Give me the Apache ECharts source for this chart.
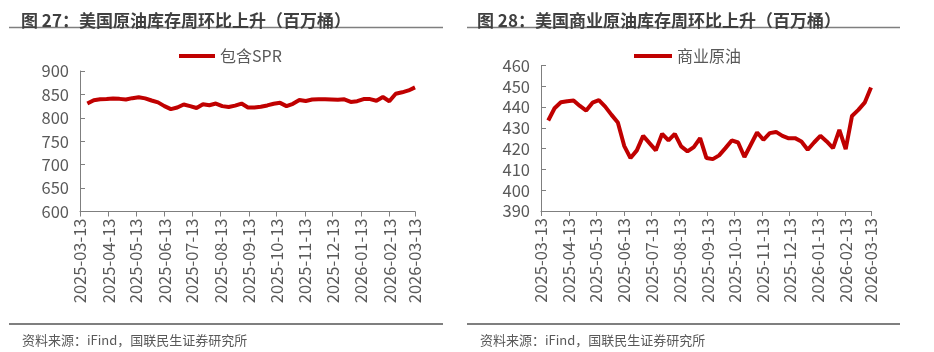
<!DOCTYPE html>
<html>
<head>
<meta charset="utf-8">
<script src="https://cdn.jsdelivr.net/npm/echarts@6/dist/echarts.min.js"></script>
<style>
  html, body { margin: 0; padding: 0; background: #fff; }
  #chart { width: 934px; height: 352px; }
</style>
</head>
<body>
<div id="chart"></div>
<script>
// weekly observation dates (week ending Friday)
var weeks = [
  "2025-03-21", "2025-03-28", "2025-04-04", "2025-04-11", "2025-04-18", "2025-04-25",
  "2025-05-02", "2025-05-09", "2025-05-16", "2025-05-23", "2025-05-30",
  "2025-06-06", "2025-06-13", "2025-06-20", "2025-06-27",
  "2025-07-04", "2025-07-11", "2025-07-18", "2025-07-25",
  "2025-08-01", "2025-08-08", "2025-08-15", "2025-08-22", "2025-08-29",
  "2025-09-05", "2025-09-12", "2025-09-19", "2025-09-26",
  "2025-10-03", "2025-10-10", "2025-10-17", "2025-10-24", "2025-10-31",
  "2025-11-07", "2025-11-14", "2025-11-21", "2025-11-28",
  "2025-12-05", "2025-12-12", "2025-12-19", "2025-12-26",
  "2026-01-02", "2026-01-09", "2026-01-16", "2026-01-23", "2026-01-30",
  "2026-02-06", "2026-02-13", "2026-02-20", "2026-02-27",
  "2026-03-06", "2026-03-13"
];

// 包含SPR (百万桶)
var totalWithSpr = [
  830.5, 837.5, 839.5, 840.4, 841.5, 840.5, 839, 842, 844, 841.5, 837,
  833, 825, 818.5, 822, 828.5, 825, 821, 829, 827, 830.5,
  825, 823, 826, 830.5, 822, 822, 823.5, 826.5, 830, 832,
  825, 830, 838, 836, 839, 839.5, 839.5, 839, 838.5, 839.5,
  834, 835.5, 840, 840, 836.5, 844.5, 835.5, 851.5, 854.5, 858.5, 865
];

// 商业原油 (百万桶)
var commercial = [
  433.6, 439.5, 442.4, 442.9, 443.2, 440.6, 438.4, 442.2, 443.4, 440.3, 436.3,
  432.6, 421.4, 415.5, 419.2, 426.2, 422.7, 419.2, 427.2, 424, 427.2,
  421.1, 418.7, 420.8, 425.1, 415.5, 415, 416.8, 420.3, 424, 423,
  416, 421.9, 427.8, 424.3, 427.5, 428.1, 426.2, 425, 425.1, 423.5,
  419.5, 423, 426.2, 423.5, 420.3, 429.1, 419.8, 435.8, 438.7, 442.2, 449.5
];

var tickDates = [
  "2025-03-13", "2025-04-13", "2025-05-13", "2025-06-13", "2025-07-13",
  "2025-08-13", "2025-09-13", "2025-10-13", "2025-11-13", "2025-12-13",
  "2026-01-13", "2026-02-13", "2026-03-13"
];

function ts(s) {
  var p = s.split("-");
  return new Date(+p[0], +p[1] - 1, +p[2]).getTime();
}

var tickValues = tickDates.map(ts);
var tickLabelMap = {};
tickDates.forEach(function (d, i) { tickLabelMap[tickValues[i]] = d; });

function pairs(vals) {
  return vals.map(function (v, i) { return [ts(weeks[i]), v]; });
}

var red = "#C00000";
var axisColor = "#7f7f7f";
var labelColor = "#595959";
var font = "'Noto Sans CJK SC', 'Noto Sans', sans-serif";

function makeX(gridIndex) {
  return {
    type: "value",
    gridIndex: gridIndex,
    min: tickValues[0],
    max: tickValues[tickValues.length - 1],
    axisLine: { lineStyle: { color: axisColor, width: 1 } },
    axisTick: {
      show: true, inside: false, length: 5,
      customValues: tickValues,
      lineStyle: { color: axisColor }
    },
    axisLabel: {
      rotate: 90, margin: 7, fontSize: 16.5, color: labelColor, fontFamily: font,
      customValues: tickValues,
      formatter: function (v) { return tickLabelMap[v] || ""; }
    },
    splitLine: { show: false }
  };
}

function makeY(gridIndex, min, max, interval) {
  return {
    type: "value",
    gridIndex: gridIndex,
    min: min, max: max, interval: interval,
    axisLine: { show: true, lineStyle: { color: axisColor, width: 1 } },
    axisTick: { show: true, inside: true, length: 5, lineStyle: { color: axisColor } },
    axisLabel: { fontSize: 16.5, color: labelColor, fontFamily: font, margin: 11 },
    splitLine: { show: false }
  };
}

var chart = echarts.init(document.getElementById("chart"));

chart.setOption({
  animation: false,
  backgroundColor: "#fff",
  title: [
    {
      text: "图 27：美国原油库存周环比上升（百万桶）",
      left: 16, top: 7,
      textStyle: { fontSize: 17, fontWeight: "bold", color: "#404040", fontFamily: font }
    },
    {
      text: "图 28：美国商业原油库存周环比上升（百万桶）",
      left: 472, top: 7,
      textStyle: { fontSize: 17, fontWeight: "bold", color: "#404040", fontFamily: font }
    },
    {
      text: "资料来源：iFind，国联民生证券研究所",
      left: 17, top: 329,
      textStyle: { fontSize: 13, fontWeight: "normal", color: labelColor, fontFamily: font }
    },
    {
      text: "资料来源：iFind，国联民生证券研究所",
      left: 475, top: 329,
      textStyle: { fontSize: 13, fontWeight: "normal", color: labelColor, fontFamily: font }
    }
  ],
  graphic: [
    { type: "line", shape: { x1: 9, y1: 27.5, x2: 443, y2: 27.5 }, style: { stroke: "#7f7f7f", lineWidth: 1.5 } },
    { type: "line", shape: { x1: 467, y1: 27.5, x2: 900, y2: 27.5 }, style: { stroke: "#7f7f7f", lineWidth: 1.5 } },
    { type: "line", shape: { x1: 9, y1: 324, x2: 443, y2: 324 }, style: { stroke: "#7f7f7f", lineWidth: 2 } },
    { type: "line", shape: { x1: 467, y1: 324, x2: 900, y2: 324 }, style: { stroke: "#7f7f7f", lineWidth: 2 } }
  ],
  legend: [
    {
      data: ["包含SPR"], left: 174, top: 43,
      icon: "rect", itemWidth: 36, itemHeight: 4, itemGap: 5,
      textStyle: { fontSize: 16, color: labelColor, fontFamily: font }
    },
    {
      data: ["商业原油"], left: 629, top: 43,
      icon: "rect", itemWidth: 38, itemHeight: 4, itemGap: 5,
      textStyle: { fontSize: 16, color: labelColor, fontFamily: font }
    }
  ],
  grid: [
    { left: 80, right: 519, top: 71, bottom: 140.5 },
    { left: 541, right: 63, top: 65.7, bottom: 141 }
  ],
  xAxis: [makeX(0), makeX(1)],
  yAxis: [makeY(0, 600, 900, 50), makeY(1, 390, 460, 10)],
  series: [
    {
      name: "包含SPR", type: "line", xAxisIndex: 0, yAxisIndex: 0,
      data: pairs(totalWithSpr), showSymbol: false, symbol: "none",
      lineStyle: { color: red, width: 4 }, itemStyle: { color: red }
    },
    {
      name: "商业原油", type: "line", xAxisIndex: 1, yAxisIndex: 1,
      data: pairs(commercial), showSymbol: false, symbol: "none",
      lineStyle: { color: red, width: 4 }, itemStyle: { color: red }
    }
  ]
});
</script>
</body>
</html>
